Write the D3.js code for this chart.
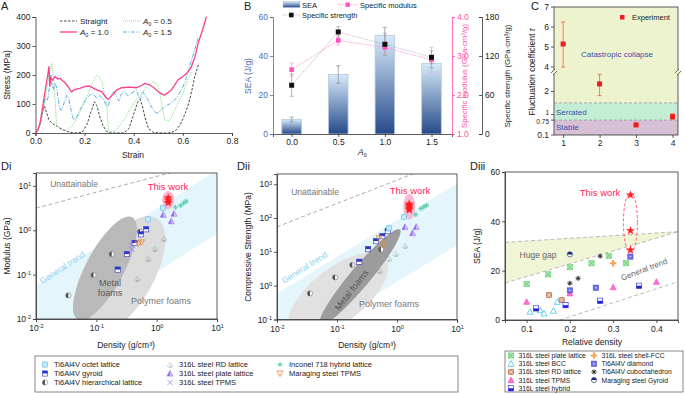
<!DOCTYPE html>
<html>
<head>
<meta charset="utf-8">
<script src="https://cdn.jsdelivr.net/npm/d3@7"></script>
<style>
body { margin: 0; background: #fff; }
svg { font-family: "Liberation Sans", Arial, sans-serif; }
.axis text { font-size: 8.5px; fill: #222; }
.axis path, .axis line { stroke: #333; stroke-width: 0.8; }
</style>
</head>
<body>
<svg id="fig" width="685" height="394"></svg>
<script>
// ---------- Panel A: stress-strain curves [strain, stress MPa]
const straight = [[0,0],[0.015,20],[0.03,75],[0.037,92],[0.045,70],[0.055,45],[0.07,32],[0.09,22],[0.11,12],[0.13,5],[0.15,1],[0.17,0],[0.19,3],[0.21,30],[0.225,70],[0.24,108],[0.25,95],[0.26,60],[0.275,25],[0.29,5],[0.31,0],[0.36,0],[0.38,15],[0.40,65],[0.415,105],[0.425,116],[0.435,95],[0.445,56],[0.46,15],[0.48,2],[0.5,0],[0.54,0],[0.56,4],[0.575,12],[0.59,30],[0.6,48],[0.615,80],[0.628,115],[0.64,160],[0.648,194],[0.665,240]];
const a05 = [[0,0],[0.02,30],[0.04,120],[0.055,200],[0.066,242],[0.072,200],[0.079,125],[0.086,28],[0.1,12],[0.113,8],[0.13,12],[0.15,25],[0.18,68],[0.2,110],[0.215,137],[0.235,180],[0.249,200],[0.26,192],[0.27,177],[0.28,140],[0.29,91],[0.296,22],[0.30,3],[0.32,5],[0.33,11],[0.36,45],[0.384,80],[0.41,115],[0.44,144],[0.46,165],[0.479,177],[0.49,172],[0.5,160],[0.513,102],[0.526,45],[0.54,42],[0.547,45],[0.567,80],[0.585,110],[0.60,137],[0.62,183],[0.635,210]];
const a10 = [[0,0],[0.01,10],[0.02,40],[0.03,95],[0.04,150],[0.05,200],[0.055,230],[0.058,160],[0.062,190],[0.07,182],[0.08,195],[0.09,186],[0.1,189],[0.11,180],[0.12,174],[0.13,163],[0.147,142],[0.16,150],[0.18,154],[0.2,160],[0.22,162],[0.24,152],[0.26,145],[0.27,142],[0.285,125],[0.296,116],[0.31,128],[0.33,148],[0.35,156],[0.384,158],[0.41,156],[0.43,163],[0.445,171],[0.46,168],[0.48,158],[0.5,142],[0.515,134],[0.526,131],[0.553,148],[0.58,183],[0.608,200],[0.62,210],[0.635,229],[0.65,265],[0.662,309],[0.68,355],[0.696,401]];
const a15 = [[0,0],[0.015,20],[0.03,80],[0.039,120],[0.047,112],[0.052,125],[0.058,175],[0.063,200],[0.068,160],[0.072,150],[0.079,172],[0.085,160],[0.093,115],[0.1,82],[0.106,79],[0.115,100],[0.127,130],[0.135,120],[0.147,70],[0.155,46],[0.165,50],[0.18,79],[0.195,100],[0.208,120],[0.228,137],[0.24,130],[0.249,120],[0.26,130],[0.276,118],[0.288,95],[0.296,91],[0.305,120],[0.317,145],[0.33,125],[0.34,110],[0.35,135],[0.364,142],[0.377,128],[0.39,137],[0.41,148],[0.425,114],[0.438,142],[0.448,128],[0.458,114],[0.472,90],[0.486,73],[0.499,68],[0.512,80],[0.526,91],[0.545,100],[0.567,114],[0.58,128],[0.594,148],[0.608,175],[0.621,211],[0.635,250],[0.648,286],[0.662,327]];
const strainTicks = [0, 0.2, 0.4, 0.6, 0.8];
const stressTicks = [0, 100, 200, 300, 400];

// ---------- Panel B
const aLevels = [0, 0.5, 1.0, 1.5];
const seaVals = [7.5, 30.5, 50.5, 36.2];
const seaErr = [1.2, 4.5, 4.2, 2.2];
const modVals = [2.65, 3.4, 3.22, 2.9];
const modErr = [0.17, 0.12, 0.14, 0.32];
const strVals = [75, 157, 138, 118];
const strErr = [17, 8, 17, 10];

// ---------- Panel C
const caseIds = [1, 2, 3, 4];
const tauVals = [5.15, 2.33, 0.54, 0.9];
const tauLow = [4.0, 1.82, 0.49, 0.78];
const tauHigh = [6.25, 2.75, 0.6, 1.03];
const tauTicksLow = [0.1, 0.75, 1, 2];
const tauTicksHigh = [4, 5, 6, 7];

// ---------- Panel Di / Dii  [density, modulus GPa] / [density, strength MPa]
const octetMod = [[0.72,1.75],[1.27,3.2]];
const octetStr = [[0.74,50],[1.3,108]];
const gyroidMod = [[0.226,0.13],[0.32,0.29],[0.43,0.52],[0.55,0.81],[0.67,1.05]];
const gyroidStr = [[0.235,5.1],[0.33,12],[0.447,20.7],[0.57,29],[0.7,41]];
const hierMod = [[0.0344,0.034],[0.09,0.098],[0.18,0.29],[0.53,0.93]];
const hierStr = [[0.0355,0.59],[0.093,1.76],[0.18,4.1],[0.54,11.8]];
const rdMod = [[0.48,0.08],[0.72,0.23],[0.92,0.37],[1.33,0.63]];
const rdStr = [[0.51,2.7],[0.74,6.1],[0.96,8.9],[1.36,14.7]];
const plateMod = [[1.29,2.25],[1.75,1.6],[1.94,2.37]];
const plateStr = [[1.36,55],[1.82,36],[2.09,55]];
const tpmsMod = [[0.385,0.46],[0.39,0.37]];
const inconelMod = [[2.05,3.3],[2.5,3.6],[2.8,4.1],[3.1,4.5]];
const inconelStr = [[2.05,126],[2.5,190],[2.8,213],[3.1,237]];
const maragingMod = [[0.5,0.5],[0.56,0.53]];
const maragingStr = [[0.5,25],[0.59,16]];
const workMod = [[1.55,4.2],[1.55,4.8],[1.55,5.4]];
const workStr = [[1.6,175],[1.6,195],[1.6,215],[1.6,238],[1.6,260]];
const decadeTicks = [0.01, 0.1, 1, 10];
const modTicks = [0.01, 0.1, 1, 10];
const strTicks = [0.1, 1, 10, 100, 1000];

// ---------- Panel Diii  [relative density, SEA J/g]
const plateSea = [[0.1,14.6],[0.15,18.5],[0.2,21.4],[0.25,23],[0.29,26],[0.33,23]];
const bccSea = [[0.108,3.4],[0.131,4],[0.14,2.7],[0.162,3.8],[0.171,7.4]];
const rdSea = [[0.152,10.1],[0.181,8.1]];
const tpmsSea = [[0.1,7.4],[0.2,10.8],[0.3,13.3],[0.4,15.5]];
const hybridSea = [[0.122,4.7],[0.19,6],[0.27,7.8],[0.36,13.9]];
const shellSea = [[0.3,23]];
const diamondSea = [[0.2,12],[0.26,13.1],[0.34,25.7]];
const cuboSea = [[0.2,14.9],[0.219,16.9],[0.27,25.9]];
const marGyroidSea = [[0.2,26.6]];
const workSea = [[0.34,28.4],[0.34,36.2],[0.34,50.7]];
const gapUpper = [[0.05,31.5],[0.45,35.8]];
const gapLower = [[0.05,15],[0.45,35.8]];
const trendLower = [[0.177,0],[0.45,15.5]];
const rdTicks = [0.1, 0.2, 0.3, 0.4];
const seaTicks = [0, 20, 40, 60];

const svg = d3.select("#fig");
const defs = svg.append("defs");

function label(txt, x, y, size, opts) {
  opts = opts || {};
  const t = svg.append("text").attr("x", x).attr("y", y).attr("font-size", size)
    .attr("fill", opts.fill || "#222").attr("text-anchor", opts.anchor || "middle").text(txt);
  if (opts.rotate) t.attr("transform", `rotate(${opts.rotate},${x},${y})`);
  return t;
}
function panelLetter(txt, x, y) {
  label(txt, x, y, 11, {anchor: "start"});
}
function supTicks(g) {
  g.selectAll(".tick text").each(function(d) {
    const t = d3.select(this);
    t.text("10");
    t.append("tspan").attr("dy", "-0.5em").attr("font-size", "5.5px").text(Math.round(Math.log10(d)));
  });
}
function errBars(xs, vals, errs, xScale, yScale, color) {
  const g = svg.append("g").attr("stroke", color).attr("stroke-width", 0.7);
  xs.forEach((d, i) => {
    const x = xScale(d), y0 = yScale(vals[i] - errs[i]), y1 = yScale(vals[i] + errs[i]);
    g.append("line").attr("x1", x).attr("x2", x).attr("y1", y0).attr("y2", y1);
    g.append("line").attr("x1", x - 2).attr("x2", x + 2).attr("y1", y0).attr("y2", y0);
    g.append("line").attr("x1", x - 2).attr("x2", x + 2).attr("y1", y1).attr("y2", y1);
  });
}

// ================= Panel A =================
const xA = d3.scaleLinear().domain([0, 0.8]).range([35.5, 232]);
const yA = d3.scaleLinear().domain([0, 400]).range([133, 17]);
svg.append("g").attr("class", "axis").attr("transform", "translate(0,133)")
  .call(d3.axisBottom(xA).tickValues(strainTicks).tickFormat(d3.format(".1f")).tickSize(3).tickPadding(2));
svg.append("g").attr("class", "axis").attr("transform", "translate(35.5,0)")
  .call(d3.axisLeft(yA).tickValues(stressTicks).tickSize(3).tickPadding(2));
label("Strain", 133, 158, 8.5);
label("Stress (MPa)", 10, 75, 8.5, {rotate: -90});
panelLetter("A", 1, 10);

const lineA = d3.line().x(d => xA(d[0])).y(d => yA(d[1]));
const seriesA = [
  {data: straight, color: "#333", dash: "2.5,1.5", w: 0.9},
  {data: a05, color: "#7fdf7f", dash: "1,1", w: 1},
  {data: a15, color: "#52b2e6", dash: "4,1.5,1,1.5", w: 1},
  {data: a10, color: "#ff3d8b", dash: null, w: 1.3}
];
seriesA.forEach(s => {
  svg.append("path").datum(s.data).attr("d", lineA).attr("fill", "none")
    .attr("stroke", s.color).attr("stroke-width", s.w).attr("stroke-dasharray", s.dash);
});
// legend A
const legA = [
  {x: 60, y: 21, s: seriesA[0], name: "Straight"},
  {x: 123, y: 21, s: seriesA[1], a: "0.5"},
  {x: 60, y: 32, s: seriesA[3], a: "1.0"},
  {x: 123, y: 32, s: seriesA[2], a: "1.5"}
];
legA.forEach(l => {
  svg.append("line").attr("x1", l.x).attr("x2", l.x + 17).attr("y1", l.y).attr("y2", l.y)
    .attr("stroke", l.s.color).attr("stroke-width", l.s.w).attr("stroke-dasharray", l.s.dash);
  const t = svg.append("text").attr("x", l.x + 20).attr("y", l.y + 3).attr("font-size", 8).attr("fill", "#222");
  if (l.name) t.text(l.name);
  else {
    t.append("tspan").attr("font-style", "italic").text("A");
    t.append("tspan").attr("font-size", 5.5).attr("dy", 2).text("0");
    t.append("tspan").attr("dy", -2).text(" = " + l.a);
  }
});

// ================= Panel B =================
const xB = d3.scaleLinear().domain([-0.2, 1.72]).range([273, 452]);
const yB = d3.scaleLinear().domain([0, 60]).range([134, 17]);
const yMod = d3.scaleLinear().domain([1, 4]).range([134, 17]);
const yStr = d3.scaleLinear().domain([0, 180]).range([134, 17]);
const grad = defs.append("linearGradient").attr("id", "barGrad").attr("x1", 0).attr("x2", 0).attr("y1", 0).attr("y2", 1);
grad.append("stop").attr("offset", "0%").attr("stop-color", "#d6ebfa");
grad.append("stop").attr("offset", "100%").attr("stop-color", "#26498a");
const barW = xB(0.105) - xB(-0.105);
svg.append("g").selectAll("rect").data(aLevels).join("rect")
  .attr("x", d => xB(d) - barW / 2).attr("width", barW)
  .attr("y", (d, i) => yB(seaVals[i])).attr("height", (d, i) => yB(0) - yB(seaVals[i]))
  .attr("fill", "url(#barGrad)").attr("stroke", "#b7c9db").attr("stroke-width", 0.8);

errBars(aLevels, seaVals, seaErr, xB, yB, "#888");
errBars(aLevels, modVals, modErr, xB, yMod, "#ff99d6");
errBars(aLevels, strVals, strErr, xB, yStr, "#999");
const modPts = aLevels.map((d, i) => [xB(d), yMod(modVals[i])]);
const strPts = aLevels.map((d, i) => [xB(d), yStr(strVals[i])]);
svg.append("path").attr("d", d3.line()(modPts)).attr("fill", "none").attr("stroke", "#ff7ccf").attr("stroke-width", 0.7).attr("stroke-dasharray", "1.5,1");
svg.append("path").attr("d", d3.line()(strPts)).attr("fill", "none").attr("stroke", "#aaa").attr("stroke-width", 0.7).attr("stroke-dasharray", "1.5,1");
svg.append("g").selectAll("rect").data(modPts).join("rect")
  .attr("x", d => d[0] - 2.3).attr("y", d => d[1] - 2.3).attr("width", 4.6).attr("height", 4.6).attr("fill", "#ff4fc0");
svg.append("g").selectAll("rect").data(strPts).join("rect")
  .attr("x", d => d[0] - 2.5).attr("y", d => d[1] - 2.5).attr("width", 5).attr("height", 5).attr("fill", "#111");

svg.append("g").attr("class", "axis").attr("transform", "translate(0,134)")
  .call(d3.axisBottom(xB).tickValues(aLevels).tickFormat(d3.format(".1f")).tickSize(3).tickPadding(2));
const axBl = svg.append("g").attr("class", "axis").attr("transform", "translate(273,0)")
  .call(d3.axisLeft(yB).tickValues([0, 20, 40, 60]).tickSize(3).tickPadding(2));
axBl.selectAll("path,line").style("stroke", "#4a6cb3");
axBl.selectAll("text").style("fill", "#4a6cb3");
const axBm = svg.append("g").attr("class", "axis").attr("transform", "translate(452,0)")
  .call(d3.axisRight(yMod).tickValues([1, 2, 3, 4]).tickSize(3).tickPadding(2));
axBm.selectAll("path,line").style("stroke", "#ff4fa8");
axBm.selectAll("text").style("fill", "#ff4fa8");
svg.append("g").attr("class", "axis").attr("transform", "translate(482,0)")
  .call(d3.axisRight(yStr).tickValues([0, 60, 120, 180]).tickSizeInner(-3).tickSizeOuter(-3).tickPadding(3));
label("SEA (J/g)", 251, 76, 8.5, {rotate: -90, fill: "#4a6cb3"});
label("Specific modulus (GPa·cm³/g)", 467, 76, 7.8, {rotate: -90, fill: "#ff4fa8"});
label("Specific strength (GPa·cm³/g)", 510, 76, 7.8, {rotate: -90});
const a0Label = svg.append("text").attr("x", 358).attr("y", 155).attr("font-size", 8.5).attr("fill", "#222");
a0Label.append("tspan").attr("font-style", "italic").text("A");
a0Label.append("tspan").attr("font-size", 5.5).attr("dy", 2).text("0");
panelLetter("B", 244, 10);
// legend B
svg.append("rect").attr("x", 283).attr("y", 1.5).attr("width", 17).attr("height", 6).attr("fill", "url(#barGrad)").attr("stroke", "#b7c9db").attr("stroke-width", 0.5);
label("SEA", 302, 7.5, 7.5, {anchor: "start"});
svg.append("line").attr("x1", 338).attr("x2", 358).attr("y1", 4.7).attr("y2", 4.7).attr("stroke", "#ff7ccf").attr("stroke-width", 0.7).attr("stroke-dasharray", "1.5,1");
svg.append("rect").attr("x", 345.5).attr("y", 2.5).attr("width", 4.4).attr("height", 4.4).attr("fill", "#ff4fc0");
label("Specific modulus", 360, 7.5, 7.5, {anchor: "start"});
svg.append("line").attr("x1", 283).attr("x2", 300).attr("y1", 15).attr("y2", 15).attr("stroke", "#aaa").attr("stroke-width", 0.7).attr("stroke-dasharray", "1.5,1");
svg.append("rect").attr("x", 289).attr("y", 12.7).attr("width", 4.6).attr("height", 4.6).attr("fill", "#111");
label("Specific strength", 302, 18, 7.5, {anchor: "start"});

// ================= Panel C =================
const xC = d3.scaleLinear().domain([0.75, 4.15]).range([554, 678]);
const yCLow = d3.scaleLinear().domain([0.1, 2.85]).range([135, 72]);
const yCHigh = d3.scaleLinear().domain([3.75, 7]).range([72, 7]);
const yC = v => v >= 3 ? yCHigh(v) : yCLow(v);
const cTop = 7, cBot = 135;
svg.append("rect").attr("x", 554).attr("y", cTop).attr("width", 124).attr("height", yC(1.5) - cTop).attr("fill", "#eef3cf");
svg.append("rect").attr("x", 554).attr("y", yC(1.5)).attr("width", 124).attr("height", yC(0.75) - yC(1.5)).attr("fill", "#c3eed5");
svg.append("rect").attr("x", 554).attr("y", yC(0.75)).attr("width", 124).attr("height", cBot - yC(0.75)).attr("fill", "#d7c0d6");
[1.5, 0.75].forEach(v => {
  svg.append("line").attr("x1", 554).attr("x2", 678).attr("y1", yC(v)).attr("y2", yC(v))
    .attr("stroke", "#888").attr("stroke-width", 0.7).attr("stroke-dasharray", "3,2");
});
svg.append("rect").attr("x", 554).attr("y", cTop).attr("width", 124).attr("height", cBot - cTop)
  .attr("fill", "none").attr("stroke", "#333").attr("stroke-width", 0.8);
// y ticks (broken axis)
const cTicks = tauTicksLow.map(v => [v, yCLow(v)]).concat(tauTicksHigh.map(v => [v, yCHigh(v)]));
cTicks.forEach(t => {
  svg.append("line").attr("x1", 551).attr("x2", 554).attr("y1", t[1]).attr("y2", t[1]).attr("stroke", "#333").attr("stroke-width", 0.8);
  const tight = t[0] === 1 || t[0] === 0.75;
  const shift = t[0] === 1 ? -1.6 : (t[0] === 0.75 ? 1.6 : 0);
  label(t[0], 549, t[1] + (tight ? 2.2 : 2.7) + shift, tight ? 6.5 : 8.5, {anchor: "end"});
});
[554, 678].forEach(x => {
  svg.append("rect").attr("x", x - 3).attr("y", 70).attr("width", 6).attr("height", 4).attr("fill", "#eef3cf");
  svg.append("path").attr("d", `M${x - 3},${73}L${x + 1},${69}M${x - 1},${75}L${x + 3},${71}`)
    .attr("stroke", "#333").attr("stroke-width", 0.7);
});
svg.append("g").attr("class", "axis").attr("transform", "translate(0,135)")
  .call(d3.axisBottom(xC).tickValues(caseIds).tickFormat(d3.format("d")).tickSize(3).tickPadding(2))
  .select(".domain").remove();
caseIds.forEach((d, i) => {
  const x = xC(d), y0 = yC(tauLow[i]), y1 = yC(tauHigh[i]);
  const g = svg.append("g").attr("stroke", "#ff5a3c").attr("stroke-width", 0.8);
  g.append("line").attr("x1", x).attr("x2", x).attr("y1", y0).attr("y2", y1);
  g.append("line").attr("x1", x - 2).attr("x2", x + 2).attr("y1", y0).attr("y2", y0);
  g.append("line").attr("x1", x - 2).attr("x2", x + 2).attr("y1", y1).attr("y2", y1);
  svg.append("rect").attr("x", x - 2.5).attr("y", yC(tauVals[i]) - 2.5).attr("width", 5).attr("height", 5).attr("fill", "#ee1c1c");
});
svg.append("rect").attr("x", 620).attr("y", 15).attr("width", 4.5).attr("height", 4.5).attr("fill", "#ee1c1c");
label("Experiment", 632, 20, 7.5, {anchor: "start"});
label("Catastropic collapse", 617, 57, 8, {fill: "#3a4ea6"});
label("Serrated", 556, 115, 8, {anchor: "start", fill: "#3a4ea6"});
label("Stable", 556, 130, 8, {anchor: "start", fill: "#3a4ea6"});
const tauLab = svg.append("text").attr("x", 535).attr("y", 72).attr("font-size", 8.5).attr("fill", "#222")
  .attr("text-anchor", "middle").attr("transform", "rotate(-90,535,72)");
tauLab.append("tspan").text("Fluctuation coefficient ");
tauLab.append("tspan").attr("font-style", "italic").text("τ");
panelLetter("C", 531, 10);

// ================= markers =================
function marker(g, type, cx, cy) {
  const m = g.append("g").attr("transform", `translate(${cx},${cy})`);
  const s = 2.6;
  const sq = (fill, stroke) => m.append("rect").attr("x", -s).attr("y", -s).attr("width", 2 * s).attr("height", 2 * s)
    .attr("fill", fill).attr("stroke", stroke).attr("stroke-width", 0.6);
  const tri = `M0,${-s - 0.4}L${s + 0.4},${s}L${-s - 0.4},${s}Z`;
  const xcross = `M${-s},${-s}L${s},${s}M${s},${-s}L${-s},${s}`;
  const star6 = `M${-s},0L${s},0M${-s * 0.7},${-s * 0.7}L${s * 0.7},${s * 0.7}M${s * 0.7},${-s * 0.7}L${-s * 0.7},${s * 0.7}M0,${-s}L0,${s}`;
  switch (type) {
    case "octet":
      sq("#a9dff6", "#62c0ea");
      m.append("path").attr("d", xcross).attr("stroke", "#fff").attr("stroke-width", 0.6);
      break;
    case "gyroid":
      sq("#fff", "#2a35c8");
      m.append("rect").attr("x", -s).attr("y", -s).attr("width", 2 * s).attr("height", s).attr("fill", "#2a35c8");
      break;
    case "hier":
      m.append("circle").attr("r", s).attr("fill", "#fff").attr("stroke", "#777").attr("stroke-width", 0.6);
      m.append("path").attr("d", `M0,${-s}A${s},${s} 0 0,0 0,${s}Z`).attr("fill", "#555");
      break;
    case "rd":
      m.append("text").attr("y", 3).attr("text-anchor", "middle").attr("font-size", 8)
        .attr("font-family", "DejaVu Sans").attr("fill", "#555").text("♧");
      break;
    case "plate":
      m.append("path").attr("d", tri).attr("fill", "#d9c8fb").attr("stroke", "#9a6cf0").attr("stroke-width", 0.6);
      m.append("path").attr("d", `M0,${-s - 0.4}L0,${s}L${-s - 0.4},${s}Z`).attr("fill", "#9a6cf0");
      break;
    case "tpms":
      m.append("path").attr("d", xcross).attr("stroke", "#a07af5").attr("stroke-width", 0.8);
      break;
    case "inconel":
      m.append("path").attr("d", star6).attr("stroke", "#4fc9a4").attr("stroke-width", 0.8);
      break;
    case "maraging":
      m.append("path").attr("d", `M0,${s + 0.4}L${s + 0.4},${-s}L${-s - 0.4},${-s}Z`).attr("fill", "none").attr("stroke", "#f07f2a").attr("stroke-width", 0.8);
      break;
    case "star":
      m.append("path").attr("d", d3.symbol(d3.symbolStar, 26)()).attr("fill", "#ff1f1f");
      break;
    case "plateG":
      sq("#b2ecba", "#63cf73");
      m.append("path").attr("d", xcross).attr("stroke", "#4cbf5d").attr("stroke-width", 0.7);
      break;
    case "bcc":
      m.append("path").attr("d", tri).attr("fill", "#fff").attr("stroke", "#49c2f0").attr("stroke-width", 0.8);
      break;
    case "rdB":
      sq("#d49a7a", "#b0653f");
      m.append("path").attr("d", xcross).attr("stroke", "#fff").attr("stroke-width", 0.5);
      break;
    case "tpmsP":
      m.append("path").attr("d", tri).attr("fill", "#ff6fd2").attr("stroke", "#ff3cc0").attr("stroke-width", 0.6);
      break;
    case "hybrid":
      sq("#fff", "#2020e0");
      m.append("rect").attr("x", -s).attr("y", 0).attr("width", 2 * s).attr("height", s).attr("fill", "#2020e0");
      break;
    case "shell":
      m.append("path").attr("d", d3.symbol(d3.symbolCross, 22)()).attr("fill", "#f6a45c");
      break;
    case "diamond":
      sq("#7070ec", "#4444cc");
      m.append("circle").attr("r", 0.7).attr("fill", "#fff");
      break;
    case "cubo":
      m.append("path").attr("d", star6).attr("stroke", "#222").attr("stroke-width", 0.9);
      break;
    case "marGyroid":
      m.append("circle").attr("r", s).attr("fill", "#fff").attr("stroke", "#1b2a8a").attr("stroke-width", 0.6);
      m.append("path").attr("d", `M${-s},0A${s},${s} 0 0,1 ${s},0Z`).attr("fill", "#1b2a8a");
      break;
  }
}

// ================= Di / Dii helper =================
function logPanel(opts) {
  const x = d3.scaleLog().domain([0.01, 10]).range(opts.xr);
  const y = d3.scaleLog().domain(opts.yd).range(opts.yr);
  const clipId = opts.id + "clip";
  defs.append("clipPath").attr("id", clipId).append("rect")
    .attr("x", opts.xr[0]).attr("y", opts.yr[1]).attr("width", opts.xr[1] - opts.xr[0]).attr("height", opts.yr[0] - opts.yr[1]);
  const g = svg.append("g").attr("clip-path", `url(#${clipId})`);
  // general trend band
  const band = opts.bandUpper.concat(opts.bandLower.slice().reverse()).map(d => [x(d[0]), y(d[1])]);
  g.append("path").attr("d", d3.line()(band) + "Z").attr("fill", "#e4f6fc");
  // foams ellipses
  opts.ellipses.forEach(e => {
    g.append("ellipse").attr("rx", e.rx).attr("ry", e.ry).attr("fill", e.fill)
      .attr("transform", `translate(${x(e.c[0])},${y(e.c[1])}) rotate(${e.rot})`);
  });
  // unattainable line
  g.append("path").attr("d", d3.line()(opts.limit.map(d => [x(d[0]), y(d[1])])))
    .attr("stroke", "#999").attr("stroke-width", 0.8).attr("stroke-dasharray", "4,2.5").attr("fill", "none");
  // this work highlight
  g.append("ellipse").attr("cx", x(opts.work[0][0])).attr("cy", y(d3.mean(opts.work, d => d[1])))
    .attr("rx", 6).attr("ry", opts.workRy).attr("fill", "#f6b9d6");
  opts.series.forEach(s => s.data.forEach(d => marker(g, s.type, x(d[0]), y(d[1]))));
  opts.work.forEach(d => marker(g, "star", x(d[0]), y(d[1])));
  // frame + axes
  svg.append("rect").attr("x", opts.xr[0]).attr("y", opts.yr[1]).attr("width", opts.xr[1] - opts.xr[0])
    .attr("height", opts.yr[0] - opts.yr[1]).attr("fill", "none").attr("stroke", "#333").attr("stroke-width", 0.8);
  const ax = svg.append("g").attr("class", "axis").attr("transform", `translate(0,${opts.yr[0]})`)
    .call(d3.axisBottom(x).tickValues(decadeTicks).tickSize(3).tickPadding(3));
  supTicks(ax);
  const ay = svg.append("g").attr("class", "axis").attr("transform", `translate(${opts.xr[0]},0)`)
    .call(d3.axisLeft(y).tickValues(opts.yTicks).tickSize(3).tickPadding(2));
  supTicks(ay);
  return {x, y};
}

logPanel({
  id: "di", xr: [36, 217], yd: [0.01, 19.5], yr: [319, 173], yTicks: modTicks,
  bandUpper: [[0.01, 0.056], [10, 22.6]], bandLower: [[0.01, 0.0021], [10, 0.84]],
  ellipses: [
    {c: [0.28, 0.0975], rx: 66, ry: 30, rot: -60, fill: "#dcdcdc"},
    {c: [0.139, 0.138], rx: 58, ry: 19, rot: -62, fill: "#b9b9b9"}
  ],
  limit: [[0.01, 3.16], [10, 3.16 * Math.pow(10, 3 * 0.357)]],
  work: workMod, workRy: 9,
  series: [
    {type: "hier", data: hierMod}, {type: "rd", data: rdMod}, {type: "gyroid", data: gyroidMod},
    {type: "octet", data: octetMod}, {type: "tpms", data: tpmsMod}, {type: "maraging", data: maragingMod},
    {type: "plate", data: plateMod}, {type: "inconel", data: inconelMod}
  ]
});
logPanel({
  id: "dii", xr: [277, 457], yd: [0.1, 2000], yr: [319.5, 174], yTicks: strTicks,
  bandUpper: [[0.01, 0.59], [10, 1047]], bandLower: [[0.01, 0.0089], [10, 15.8]],
  ellipses: [
    {c: [0.104, 0.53], rx: 60, ry: 27, rot: -38, fill: "#e1e1e1"},
    {c: [0.242, 1.8], rx: 62, ry: 10, rot: -50, fill: "#9c9c9c"}
  ],
  limit: [[0.01, 55], [10, 55 * Math.pow(10, 3 * 0.69)]],
  work: workStr, workRy: 13,
  series: [
    {type: "hier", data: hierStr}, {type: "rd", data: rdStr}, {type: "gyroid", data: gyroidStr},
    {type: "octet", data: octetStr}, {type: "maraging", data: maragingStr},
    {type: "plate", data: plateStr}, {type: "inconel", data: inconelStr}
  ]
});
// Di annotations
label("Unattainable", 74, 187, 8.5, {fill: "#777"});
label("This work", 168, 190, 9.5, {fill: "#ff2458"});
label("General trend", 64, 270, 8.5, {fill: "#86d3f0", rotate: -33});
label("Metal", 110, 286, 9, {fill: "#5a5a5a"});
label("foams", 110, 296, 9, {fill: "#5a5a5a"});
label("Polymer foams", 161, 304, 9, {fill: "#777"});
label("Modulus (GPa)", 10, 246, 8.5, {rotate: -90});
label("Density (g/cm³)", 126, 348, 8.5);
panelLetter("Di", 1, 170);
// Dii annotations
label("Unattainable", 315, 195, 8.5, {fill: "#777"});
label("This work", 410, 194, 9.5, {fill: "#ff2458"});
label("General trend", 306, 270, 8.5, {fill: "#86d3f0", rotate: -32});
label("Metal foams", 354, 292, 9, {fill: "#555", rotate: -52});
label("Polymer foams", 389, 307, 9, {fill: "#777"});
label("Compressive Strength (MPa)", 251, 247, 8.5, {rotate: -90});
label("Density (g/cm³)", 367, 348, 8.5);
panelLetter("Dii", 237, 170);

// ================= Diii =================
const xD = d3.scaleLinear().domain([0.05, 0.45]).range([505, 678]);
const yD = d3.scaleLinear().domain([0, 60]).range([320, 172]);
defs.append("clipPath").attr("id", "diiiclip").append("rect").attr("x", 505).attr("y", 172).attr("width", 173).attr("height", 148);
const gD = svg.append("g").attr("clip-path", "url(#diiiclip)");
const ptD = d => [xD(d[0]), yD(d[1])];
gD.append("path").attr("d", d3.line()(gapUpper.map(ptD).concat([ptD(gapLower[0])])) + "Z").attr("fill", "#f0f5d6");
[gapUpper, gapLower, trendLower].forEach(l => {
  gD.append("path").attr("d", d3.line()(l.map(ptD))).attr("stroke", "#aaa").attr("stroke-width", 0.8)
    .attr("stroke-dasharray", "4,2.5").attr("fill", "none");
});
[
  {type: "plateG", data: plateSea}, {type: "bcc", data: bccSea}, {type: "rdB", data: rdSea},
  {type: "tpmsP", data: tpmsSea}, {type: "hybrid", data: hybridSea}, {type: "shell", data: shellSea},
  {type: "diamond", data: diamondSea}, {type: "cubo", data: cuboSea}, {type: "marGyroid", data: marGyroidSea}
].forEach(s => s.data.forEach(d => marker(gD, s.type, xD(d[0]), yD(d[1]))));
workSea.forEach(d => marker(gD, "star", xD(d[0]), yD(d[1])));
gD.append("ellipse").attr("cx", xD(workSea[0][0])).attr("cy", yD(39.5)).attr("rx", 7).attr("ry", 30)
  .attr("fill", "none").attr("stroke", "#ff4d6d").attr("stroke-width", 0.9).attr("stroke-dasharray", "3,2");
svg.append("rect").attr("x", 505).attr("y", 172).attr("width", 173).attr("height", 148)
  .attr("fill", "none").attr("stroke", "#333").attr("stroke-width", 0.8);
svg.append("g").attr("class", "axis").attr("transform", "translate(0,320)")
  .call(d3.axisBottom(xD).tickValues(rdTicks).tickFormat(d3.format(".1f")).tickSize(3).tickPadding(3));
svg.append("g").attr("class", "axis").attr("transform", "translate(505,0)")
  .call(d3.axisLeft(yD).tickValues(seaTicks).tickSize(3).tickPadding(2));
label("This work", 600, 196, 9.5, {fill: "#ff2458"});
label("Huge gap", 538, 258, 8.5, {fill: "#666"});
label("General trend", 645, 272, 8, {fill: "#666", rotate: -21});
label("SEA (J/g)", 480, 246, 8.5, {rotate: -90});
label("Relative density", 592, 345, 8.5);
panelLetter("Diii", 470, 170);

// ================= legends =================
svg.append("rect").attr("x", 35).attr("y", 356).attr("width", 423).attr("height", 36)
  .attr("fill", "none").attr("stroke", "#555").attr("stroke-width", 0.7);
const legD = [
  {type: "octet", name: "Ti6Al4V octet lattice", col: 0, row: 0},
  {type: "gyroid", name: "Ti6Al4V gyroid", col: 0, row: 1},
  {type: "hier", name: "Ti6Al4V hierarchical lattice", col: 0, row: 2},
  {type: "rd", name: "316L steel RD lattice", col: 1, row: 0},
  {type: "plate", name: "316L steel plate lattice", col: 1, row: 1},
  {type: "tpms", name: "316L steel TPMS", col: 1, row: 2},
  {type: "inconel", name: "Inconel 718 hybrid lattice", col: 2, row: 0},
  {type: "maraging", name: "Maraging steel TPMS", col: 2, row: 1}
];
const legDcols = [45, 170, 280];
legD.forEach(l => {
  const x = legDcols[l.col], y = 364.5 + l.row * 9;
  marker(svg, l.type, x, y);
  label(l.name, x + 9, y + 2.8, 7.5, {anchor: "start"});
});
svg.append("rect").attr("x", 505).attr("y", 351).attr("width", 178).attr("height", 41)
  .attr("fill", "none").attr("stroke", "#555").attr("stroke-width", 0.7);
const legE = [
  {type: "plateG", name: "316L steel plate lattice", col: 0, row: 0},
  {type: "bcc", name: "316L steel BCC", col: 0, row: 1},
  {type: "rdB", name: "316L steel RD lattice", col: 0, row: 2},
  {type: "tpmsP", name: "316L steel TPMS", col: 0, row: 3},
  {type: "hybrid", name: "316L steel hybrid", col: 0, row: 4},
  {type: "shell", name: "316L steel shell-FCC", col: 1, row: 0},
  {type: "diamond", name: "Ti6Al4V diamond", col: 1, row: 1},
  {type: "cubo", name: "Ti6Al4V cuboctahedron", col: 1, row: 2},
  {type: "marGyroid", name: "Maraging steel Gyroid", col: 1, row: 3}
];
const legEcols = [511, 594];
legE.forEach(l => {
  const x = legEcols[l.col], y = 355.5 + l.row * 8.2;
  marker(svg, l.type, x, y);
  label(l.name, x + 7.5, y + 2.5, 6.8, {anchor: "start"});
});
</script>
</body>
</html>
